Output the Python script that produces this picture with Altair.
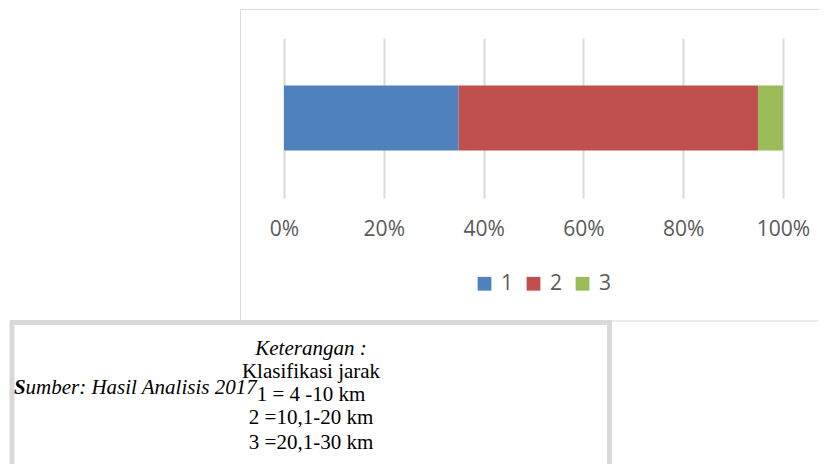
import altair as alt
import pandas as pd

# ---- data ----
categories = ["1", "2", "3"]
shares = [35, 60, 5]
colors = ["#4f81bd", "#c0504d", "#9bbb59"]
tick_values = [0, 0.2, 0.4, 0.6, 0.8, 1.0]

note_title = "Keterangan :"
note_lines = ["Klasifikasi jarak", "1 = 4 -10 km", "2 =10,1-20 km", "3 =20,1-30 km"]
source_first = "S"
source_rest = "umber: Hasil Analisis 2017"

df = pd.DataFrame({"kategori": categories, "nilai": shares, "grup": ["A"] * 3})

one = alt.Data(values=[{}])
GRAY = "#d9d9d9"

# chart outer border
frame = alt.Chart(one).mark_rect(fillOpacity=0, stroke=GRAY, strokeWidth=1).encode(
    x=alt.value(-43.5), x2=alt.value(600), y=alt.value(-28.5), y2=alt.value(283)
)
# lower note box
box = alt.Chart(one).mark_rect(fill="white", stroke=GRAY, strokeWidth=5).encode(
    x=alt.value(-272), x2=alt.value(325.5), y=alt.value(284.5), y2=alt.value(560)
)

bars = alt.Chart(df).mark_bar(size=65).encode(
    x=alt.X(
        "nilai:Q",
        stack="normalize",
        title=None,
        scale=alt.Scale(domain=[0, 1]),
        axis=alt.Axis(
            values=tick_values,
            format=".0%",
            grid=True,
            gridColor=GRAY,
            gridWidth=2,
            domain=False,
            ticks=False,
            labelFlush=False,
            labelFont="Open Sans",
            labelFontSize=21,
            labelColor="#595959",
            labelPadding=20,
        ),
    ),
    y=alt.Y("grup:N", axis=None, title=None),
    color=alt.Color(
        "kategori:N",
        scale=alt.Scale(domain=categories, range=colors),
        legend=alt.Legend(
            title=None,
            orient="none",
            direction="horizontal",
            legendX=190,
            legendY=235,
            symbolType="square",
            symbolSize=190,
            symbolStrokeWidth=0,
            labelFont="Open Sans",
            labelFontSize=21,
            labelColor="#595959",
            columnPadding=9,
            labelOffset=6,
        ),
    ),
)

title_txt = alt.Chart(one).mark_text(
    font="Liberation Serif", fontSize=21, fontStyle="italic", color="black",
    align="center", baseline="middle",
).encode(x=alt.value(27), y=alt.value(311), text=alt.value(note_title))

line_y = [334, 357, 380, 405]
line_layers = [
    alt.Chart(one).mark_text(
        font="Liberation Serif", fontSize=21, color="black",
        align="center", baseline="middle",
    ).encode(x=alt.value(27), y=alt.value(yy), text=alt.value(t))
    for t, yy in zip(note_lines, line_y)
]

src_s = alt.Chart(one).mark_text(
    font="Liberation Serif", fontSize=21, fontStyle="italic", fontWeight="bold",
    color="black", align="left", baseline="middle",
).encode(x=alt.value(-270), y=alt.value(350), text=alt.value(source_first))

src_rest = alt.Chart(one).mark_text(
    font="Liberation Serif", fontSize=21, fontStyle="italic", color="black",
    align="left", baseline="middle",
).encode(x=alt.value(-258.5), y=alt.value(350), text=alt.value(source_rest))

chart = alt.layer(frame, box, bars, title_txt, *line_layers, src_s, src_rest).properties(
    width=499,
    height=160,
    padding={"left": 276, "top": 30, "right": 36, "bottom": 266},
    autosize=alt.AutoSizeParams(type="none"),
    background="white",
).configure_view(stroke=None)

chart.save("out.html", embed_options={"renderer": "svg", "actions": False})
